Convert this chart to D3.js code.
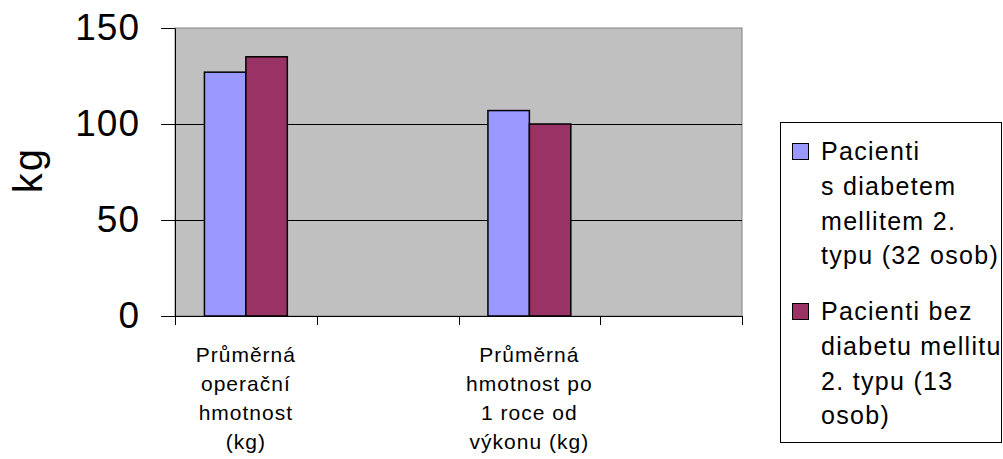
<!DOCTYPE html>
<html>
<head>
<meta charset="utf-8">
<script src="https://cdn.jsdelivr.net/npm/d3@7"></script>
<style>
  body { margin: 0; background: #fff; }
  text { font-family: "Liberation Sans", Arial, sans-serif; fill: #000; }
</style>
</head>
<body>
<svg id="chart"></svg>
<script>
var svgWidth = 1003;
var svgHeight = 459;

// data
var categories = ["operacni", "prazdne1", "porocе", "prazdne2"];
var categoryLines = [
  ["Průměrná", "operační", "hmotnost", "(kg)"],
  [],
  ["Průměrná", "hmotnost po", "1 roce od", "výkonu (kg)"],
  []
];
var seriesNames = ["Pacienti s diabetem mellitem 2. typu (32 osob)", "Pacienti bez diabetu mellitu 2. typu (13 osob)"];
var legendLines = [
  ["Pacienti", "s diabetem", "mellitem 2.", "typu (32 osob)"],
  ["Pacienti bez", "diabetu mellitu", "2. typu (13", "osob)"]
];
var withDiabetes = [127, null, 107, null];
var withoutDiabetes = [135, null, 100, null];
var yTicks = [0, 50, 100, 150];
var colors = ["#9999FF", "#993366"];

var plotLeft = 175, plotRight = 742, plotTop = 28, plotBottom = 316;

var svg = d3.select("#chart")
  .attr("width", svgWidth)
  .attr("height", svgHeight);

var x0 = d3.scaleBand().domain(categories).range([plotLeft, plotRight]).padding(0);
var x1 = d3.scaleBand().domain(seriesNames).range([0, x0.bandwidth()]).paddingInner(0).paddingOuter(0.71);
var y = d3.scaleLinear().domain([0, 150]).range([plotBottom, plotTop]);

// plot area
svg.append("rect")
  .attr("x", plotLeft)
  .attr("y", plotTop)
  .attr("width", plotRight - plotLeft)
  .attr("height", plotBottom - plotTop)
  .style("fill", "#C0C0C0")
  .style("stroke", "#808080")
  .style("stroke-width", 1);

// gridlines
svg.selectAll(".grid")
  .data(yTicks.filter(function(d) { return d > 0 && d < 150; }))
  .enter()
  .append("line")
  .attr("x1", plotLeft)
  .attr("x2", plotRight)
  .attr("y1", function(d) { return Math.round(y(d)) + 0.5; })
  .attr("y2", function(d) { return Math.round(y(d)) + 0.5; })
  .style("stroke", "#000")
  .style("stroke-width", 1);

// bars
var rows = categories.map(function(c, i) {
  return { cat: c, values: [withDiabetes[i], withoutDiabetes[i]] };
});

var groups = svg.selectAll(".group")
  .data(rows)
  .enter()
  .append("g")
  .attr("transform", function(d) { return "translate(" + x0(d.cat) + ",0)"; });

groups.selectAll("rect")
  .data(function(d) {
    return d.values.map(function(v, i) { return { name: seriesNames[i], value: v, i: i }; })
      .filter(function(e) { return e.value != null; });
  })
  .enter()
  .append("rect")
  .attr("x", function(d) { return x1(d.name); })
  .attr("y", function(d) { return y(d.value); })
  .attr("width", x1.bandwidth())
  .attr("height", function(d) { return plotBottom - y(d.value); })
  .style("fill", function(d) { return colors[d.i]; })
  .style("stroke", "#000")
  .style("stroke-width", 1.5);

// y axis
var yAxis = svg.append("g")
  .attr("transform", "translate(" + plotLeft + ",0)")
  .call(d3.axisLeft(y).tickValues(yTicks).tickSize(14).tickSizeOuter(0).tickPadding(21));
yAxis.select(".domain").style("stroke", "#000");
yAxis.selectAll(".tick line").style("stroke", "#000");
yAxis.selectAll("text")
  .style("font-size", "37px")
  .style("letter-spacing", "1px")
  .style("font-family", "'Liberation Sans', Arial, sans-serif");

// x axis
svg.append("line")
  .attr("x1", plotLeft)
  .attr("x2", plotRight)
  .attr("y1", plotBottom + 0.5)
  .attr("y2", plotBottom + 0.5)
  .style("stroke", "#000");

var tickXs = categories.map(function(c) { return x0(c); }).concat([plotRight]);
svg.selectAll(".xtick")
  .data(tickXs)
  .enter()
  .append("line")
  .attr("x1", function(d) { return Math.round(d) + 0.5; })
  .attr("x2", function(d) { return Math.round(d) + 0.5; })
  .attr("y1", plotBottom)
  .attr("y2", plotBottom + 9)
  .style("stroke", "#000");

// category labels
categories.forEach(function(c, i) {
  var t = svg.append("text")
    .attr("text-anchor", "middle")
    .style("font-size", "21px")
    .style("letter-spacing", "1px");
  t.selectAll("tspan")
    .data(categoryLines[i])
    .enter()
    .append("tspan")
    .attr("x", x0(c) + x0.bandwidth() / 2)
    .attr("y", function(d, j) { return 362 + j * 29; })
    .text(function(d) { return d; });
});

// y title
svg.append("text")
  .attr("transform", "translate(42,170) rotate(-90)")
  .attr("text-anchor", "middle")
  .style("font-size", "40px")
  .style("letter-spacing", "2px")
  .text("kg");

// legend
var legend = svg.append("g").attr("class", "legend");
legend.append("rect")
  .attr("x", 780.5)
  .attr("y", 122.5)
  .attr("width", 221)
  .attr("height", 320)
  .style("fill", "#fff")
  .style("stroke", "#000")
  .style("stroke-width", 1);

var entryTop = [160, 320];
var items = legend.selectAll(".legend-item")
  .data(seriesNames)
  .enter()
  .append("g")
  .attr("class", "legend-item");

items.append("rect")
  .attr("x", 792.5)
  .attr("y", function(d, i) { return entryTop[i] - 16.5; })
  .attr("width", 16)
  .attr("height", 16)
  .style("fill", function(d, i) { return colors[i]; })
  .style("stroke", "#000")
  .style("stroke-width", 1);

items.append("text")
  .style("font-size", "25px")
  .style("letter-spacing", "1.3px")
  .each(function(d, i) {
    d3.select(this).selectAll("tspan")
      .data(legendLines[i])
      .enter()
      .append("tspan")
      .attr("x", 821)
      .attr("y", function(l, j) { return entryTop[i] + j * 34.8; })
      .text(function(l) { return l; });
  });
</script>
</body>
</html>
